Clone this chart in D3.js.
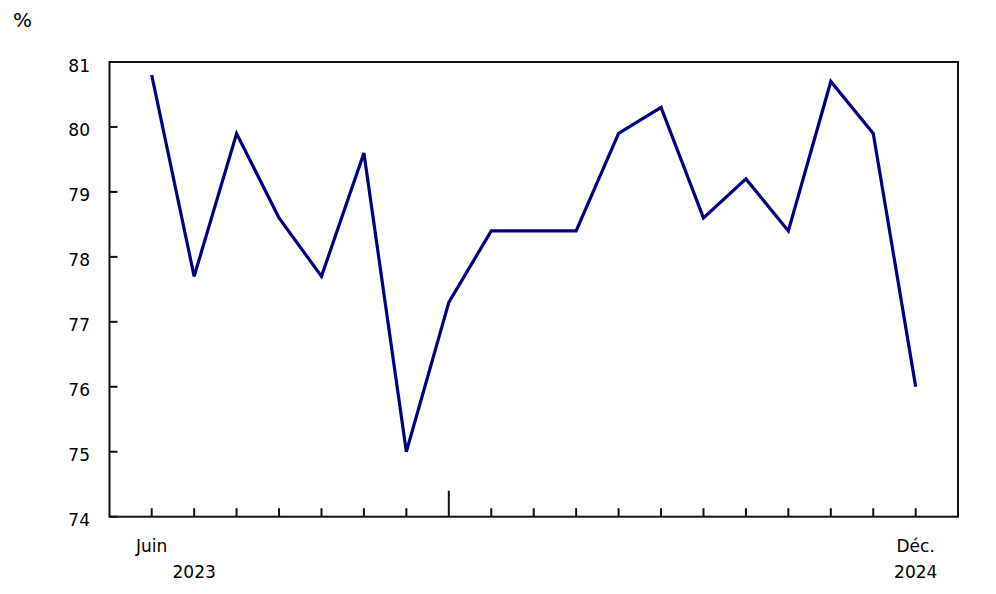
<!DOCTYPE html>
<html lang="fr">
<head>
<meta charset="UTF-8">
<title>Graphique</title>
<script src="https://d3js.org/d3.v7.min.js"></script>
<style>
    body { margin: 0; background: #fff; }
    text { font-family: "DejaVu Sans", Verdana, sans-serif; font-size: 17px; fill: #000; }
</style>
</head>
<body>
<script>
    // Monthly values, June 2023 to December 2024
    const months = ["2023-06", "2023-07", "2023-08", "2023-09", "2023-10", "2023-11", "2023-12",
        "2024-01", "2024-02", "2024-03", "2024-04", "2024-05", "2024-06", "2024-07",
        "2024-08", "2024-09", "2024-10", "2024-11", "2024-12"];
    const values = [80.8, 77.7, 79.9, 78.6, 77.7, 79.6, 75.0, 77.3, 78.4, 78.4, 78.4,
        79.9, 80.3, 78.6, 79.2, 78.4, 80.7, 79.9, 76.0];
    const yTicks = [74, 75, 76, 77, 78, 79, 80, 81];
    const monthLabels = [{ i: 0, text: "Juin" }, { i: 18, text: "Déc." }];
    const yearLabels = [{ i: 1, text: "2023" }, { i: 18, text: "2024" }];
    const yearStarts = [7]; // Jan 2024

    const W = 996, H = 594;
    const plotLeft = 109.5, plotRight = 958, plotTop = 62, plotBottom = 516.7;

    const svg = d3.select("body").append("svg")
        .attr("width", W)
        .attr("height", H);

    const x = d3.scalePoint()
        .domain(d3.range(months.length))
        .range([151.7, 915.7]);

    const y = d3.scaleLinear()
        .domain([74, 81])
        .range([plotBottom, plotTop]);

    // frame
    svg.append("rect")
        .attr("x", plotLeft).attr("y", plotTop)
        .attr("width", plotRight - plotLeft).attr("height", plotBottom - plotTop)
        .attr("fill", "none")
        .attr("stroke", "#111")
        .attr("stroke-width", 2);

    // y ticks pointing inside
    svg.append("g")
        .selectAll("line")
        .data(yTicks)
        .join("line")
        .attr("x1", plotLeft).attr("x2", plotLeft + 8)
        .attr("y1", d => y(d)).attr("y2", d => y(d))
        .attr("stroke", "#111").attr("stroke-width", 2);

    svg.append("g")
        .selectAll("text")
        .data(yTicks)
        .join("text")
        .attr("x", 90)
        .attr("y", d => y(d) + 9.5)
        .attr("text-anchor", "end")
        .text(d => d);

    // x ticks pointing up, longer at the start of a year
    svg.append("g")
        .selectAll("line")
        .data(d3.range(months.length))
        .join("line")
        .attr("x1", d => x(d)).attr("x2", d => x(d))
        .attr("y1", plotBottom)
        .attr("y2", d => yearStarts.includes(d) ? plotBottom - 26 : plotBottom - 8.5)
        .attr("stroke", "#111").attr("stroke-width", 2);

    svg.append("g")
        .selectAll("text")
        .data(monthLabels)
        .join("text")
        .attr("x", d => x(d.i))
        .attr("y", 552)
        .attr("text-anchor", "middle")
        .text(d => d.text);

    svg.append("g")
        .selectAll("text")
        .data(yearLabels)
        .join("text")
        .attr("x", d => x(d.i))
        .attr("y", 578)
        .attr("text-anchor", "middle")
        .text(d => d.text);

    svg.append("text")
        .attr("x", 13).attr("y", 27)
        .style("font-size", "20px")
        .text("%");

    // data line
    const line = d3.line()
        .x((d, i) => x(i))
        .y(d => y(d));

    svg.append("path")
        .datum(values)
        .attr("d", line)
        .attr("fill", "none")
        .attr("stroke", "#000080")
        .attr("stroke-width", 3.2)
        .attr("stroke-linejoin", "miter");
</script>
</body>
</html>
